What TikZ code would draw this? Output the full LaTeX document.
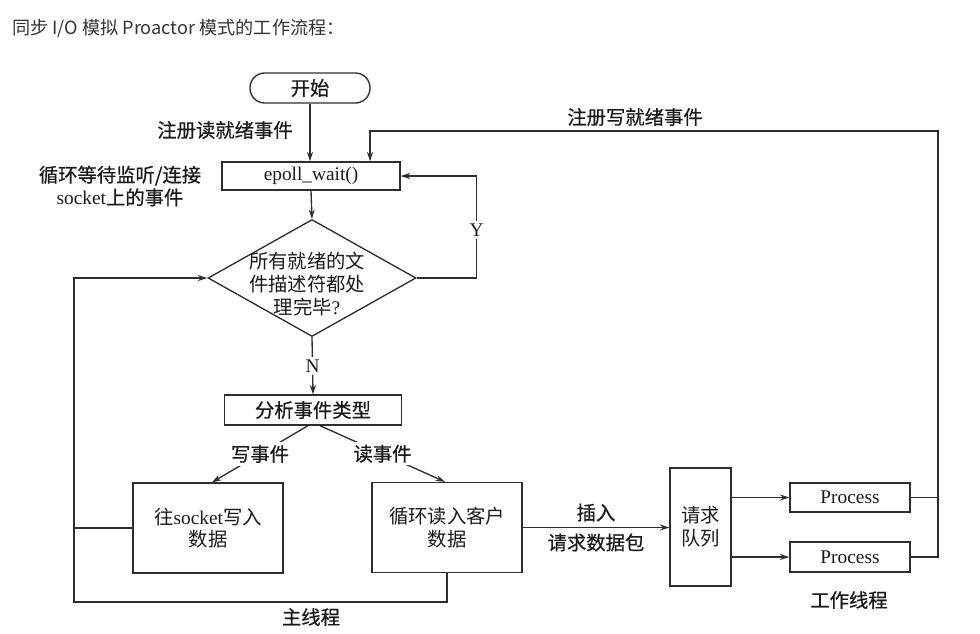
\documentclass[tikz,border=0pt]{standalone}
\usepackage{fontspec}
\setmainfont{Liberation Serif}
\newfontfamily\cjk{Noto Sans CJK SC}
\newfontfamily\cjkb[FakeBold=0.6]{Noto Sans CJK SC}
\usetikzlibrary{arrows.meta,shapes.geometric,calc}
\newcommand\zhs[1]{{\cjk #1}}
\newcommand\zhb[1]{{\cjkb #1}}
\definecolor{linec}{HTML}{2E2E2E}
\definecolor{txtc}{HTML}{1A1A1A}
\definecolor{titlec}{HTML}{333333}
\newcommand\txtfont{\fontsize{14.5}{17}\selectfont}
\begin{document}
\begin{tikzpicture}[x=0.75pt,y=-0.75pt,
  line/.style={draw=linec, line width=1pt},
  arr/.style={line, -{Stealth[length=7pt,width=4.5pt]}},
  box/.style={line, rectangle, inner sep=0pt, align=center, font=\txtfont, text=txtc},
  lbl/.style={font=\txtfont, align=center, inner sep=1pt, text=txtc}]
\useasboundingbox (0,0) rectangle (980,633);
% title
\node[anchor=west, font=\cjk\fontsize{13.6}{16}\selectfont, text=titlec, inner sep=0pt] (title) at (12,28) {同步 I/O 模拟 Proactor 模式的工作流程：};
% nodes
\node[box, rounded corners=11pt, minimum width=90pt, minimum height=22.5pt] (st) at (310,88) {\zhb{开始}};
\node[box, minimum width=133.5pt, minimum height=21pt] (ep) at (311,176) {epoll\_wait()};
\node[line, diamond, inner sep=0pt, minimum width=156pt, minimum height=87.75pt] (dia) at (312,278) {};
\node[lbl] (diat) at (307,284) {\zhs{所有就绪的文}\\\zhs{件描述符都处}\\\zhs{理完毕}?};
\node[box, minimum width=132.75pt, minimum height=22.5pt] (an) at (313,410) {\zhb{分析事件类型}};
\node[box, minimum width=112.5pt, minimum height=67.5pt] (wr) at (208,528) {\zhs{往}socket\zhs{写入}\\\zhs{数据}};
\node[box, minimum width=112.5pt, minimum height=67.5pt] (rd) at (447,527.5) {\zhs{循环读入客户}\\\zhs{数据}};
\node[box, minimum width=45.75pt, minimum height=88.5pt] (q) at (700.5,527) {\zhs{请求}\\\zhs{队列}};
\node[box, minimum width=90pt, minimum height=21.75pt] (p1) at (850,497.5) {Process};
\node[box, minimum width=90pt, minimum height=22.5pt] (p2) at (850,557) {Process};
% free labels
\node[lbl] (l1) at (225,130) {\zhb{注册读就绪事件}};
\node[lbl] (l2) at (120,186) {\zhb{循环等待监听/连接}\\socket\zhb{上的事件}};
\node[lbl] (l3) at (635,117) {\zhb{注册写就绪事件}};
\node[lbl] (l4) at (311,617) {\zhb{主线程}};
\node[lbl] (l5) at (849,600) {\zhb{工作线程}};
% coordinates
\coordinate (rt) at (938,131);
\coordinate (bl) at (74,602);
% connectors
\draw[arr] (st.south) -- (st.south |- ep.north);
\draw[arr] (ep.south) -- (dia.north);
\draw[arr] (dia.east) -- ++(60,0) |- node[pos=0.235, fill=white, lbl, inner sep=2pt] {Y} (ep.east);
\draw[arr] (dia.south) -- node[midway, fill=white, lbl, inner sep=2pt] {N} (an.north);
\draw[arr] ([xshift=-3.75pt]an.south) -- node[midway, fill=white, lbl, inner sep=2pt] {\zhb{写事件}} ([xshift=3pt]wr.north);
\draw[arr] ([xshift=5.25pt]an.south) -- node[midway, fill=white, lbl, inner sep=2pt] {\zhb{读事件}} ([xshift=-1.5pt]rd.north);
\draw[arr] (rd.east) -- node[midway, above=3pt, lbl] {\zhb{插入}} node[midway, below=3pt, lbl] {\zhb{请求数据包}} (rd.east -| q.west);
\draw[arr] (q.east |- p1.west) -- (p1.west);
\draw[arr] (q.east |- p2.west) -- (p2.west);
\draw[line] (p1.east) -- (p1.east -| rt);
\draw[arr] (p2.east) -| (rt) -| ([xshift=44.25pt]ep.north);
\draw[line] (wr.west) -- (wr.west -| bl);
\draw[arr] (rd.south) |- (bl) |- (dia.west);
\end{tikzpicture}
\end{document}
